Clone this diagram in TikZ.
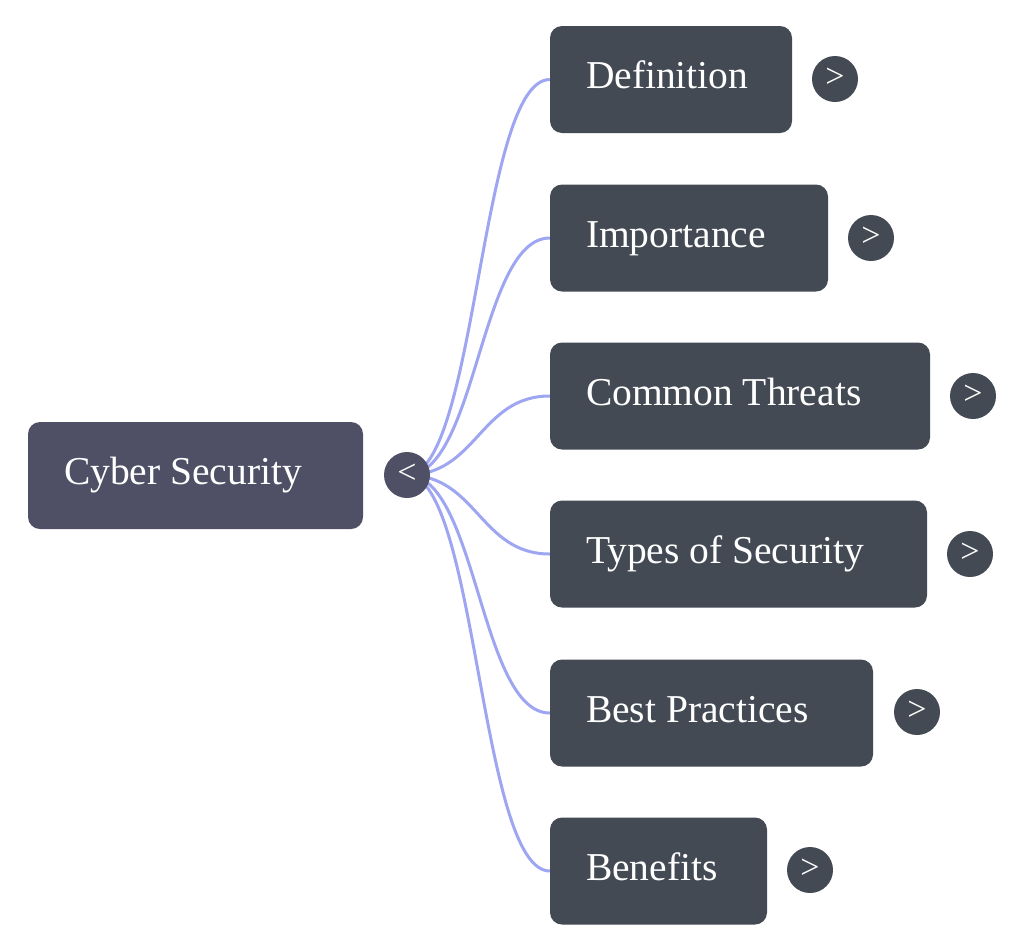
\documentclass[tikz,border=0pt]{standalone}
\usepackage{fontspec}
\setmainfont{Liberation Serif}
\usetikzlibrary{backgrounds}
\definecolor{rootfill}{HTML}{4F5066}
\definecolor{childfill}{HTML}{434A53}
\definecolor{linkcol}{HTML}{9EA6F2}
\tikzset{
  boxbase/.style={draw=none, rounded corners=12pt, minimum height=107pt,
    inner xsep=36pt, inner ysep=0pt, text height=28pt, text depth=10pt,
    text=white, font=\fontsize{39.5}{44}\selectfont},
  rootbox/.style={boxbase, fill=rootfill},
  childbox/.style={boxbase, fill=childfill},
  toggle/.style={circle, fill=childfill, minimum size=46pt, inner sep=0pt, text=white,
    font=\fontsize{34}{34}\selectfont},
  rtoggle/.style={toggle, fill=rootfill},
  link/.style={draw=linkcol, line width=3pt}
}
\newcommand{\lbl}[2]{\makebox[#1pt][l]{#2}}
\begin{document}
\begin{tikzpicture}[x=1pt,y=-1pt]
\useasboundingbox (0,0) rectangle (1024,951);
\node[rootbox] (root) at (195.5,475.5) {\lbl{263}{Cyber Security}};
\node[rtoggle] (rt) at (407,475) {\raisebox{2pt}{<}};

\node[childbox] (c1) at (671,79.5) {\lbl{170}{Definition}};
\node[childbox] (c2) at (689,238) {\lbl{206}{Importance}};
\node[childbox] (c3) at (740,396) {\lbl{308}{Common Threats}};
\node[childbox] (c4) at (738.5,554) {\lbl{305}{Types of Security}};
\node[childbox] (c5) at (711.5,713) {\lbl{251}{Best Practices}};
\node[childbox] (c6) at (658.5,871) {\lbl{145}{Benefits}};

\node[toggle] (t1) at (835,79) {\raisebox{2pt}{>}};
\node[toggle] (t2) at (871,238) {\raisebox{2pt}{>}};
\node[toggle] (t3) at (973,396) {\raisebox{2pt}{>}};
\node[toggle] (t4) at (970,554) {\raisebox{2pt}{>}};
\node[toggle] (t5) at (917,712) {\raisebox{2pt}{>}};
\node[toggle] (t6) at (810,870) {\raisebox{2pt}{>}};

\begin{scope}[on background layer]
\foreach \c in {c1,c2,c3,c4,c5,c6}{
  \draw[link] (rt.center) .. controls +(70,0) and +(-70,0) .. (\c.west);
}
\end{scope}
\end{tikzpicture}
\end{document}
